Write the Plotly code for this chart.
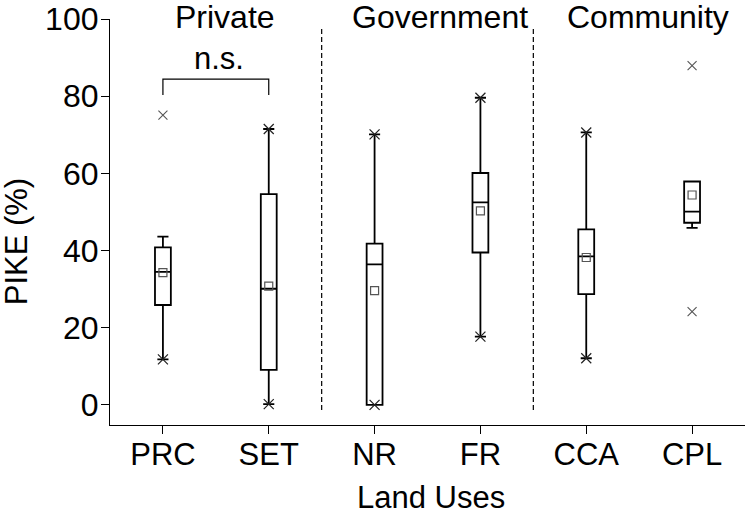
import plotly.graph_objects as go

# ---- data ----
categories = ["PRC", "SET", "NR", "FR", "CCA", "CPL"]
q1 = [25.9, 9.1, 0.0, 39.5, 28.7, 47.2]
median = [34.5, 30.1, 36.4, 52.5, 38.5, 50.1]
q3 = [40.8, 54.6, 41.8, 60.1, 45.5, 57.9]
whisker_low = [11.8, 0.2, 0.0, 17.7, 12.1, 45.9]
whisker_high = [43.6, 71.5, 70.1, 79.6, 70.6, 57.9]
means = [34.3, 30.8, 29.6, 50.3, 38.2, 54.4]

# min / max markers sitting on whisker ends
extreme_cat = ["PRC", "SET", "SET", "NR", "NR", "FR", "FR", "CCA", "CCA"]
extreme_val = [11.8, 71.5, 0.2, 70.1, 0.0, 79.6, 17.7, 70.6, 12.1]

# outlying points beyond whiskers
outlier_cat = ["PRC", "CPL", "CPL"]
outlier_val = [75.1, 87.9, 24.2]

group_labels = ["Private", "Government", "Community"]
group_centers = [0.586, 2.618, 4.584]
separators = [1.5, 3.5]
sig_pair = ["PRC", "SET"]
sig_label = "n.s."

idx = {c: i for i, c in enumerate(categories)}
xs = list(range(len(categories)))

FONT = "Liberation Sans, Arial, Helvetica, sans-serif"
FS = 31

fig = go.Figure()

fig.add_trace(go.Box(
    x=xs, q1=q1, median=median, q3=q3,
    lowerfence=whisker_low, upperfence=whisker_high,
    width=0.15, whiskerwidth=0.7,
    fillcolor="rgba(0,0,0,0)",
    line=dict(color="black", width=1.8),
    boxpoints=False, showlegend=False, hoverinfo="skip",
))

fig.add_trace(go.Scatter(
    x=xs, y=means, mode="markers", showlegend=False, hoverinfo="skip",
    marker=dict(symbol="square-open", size=8, color="#555", line=dict(width=1.2, color="#555")),
))

fig.add_trace(go.Scatter(
    x=[idx[c] for c in extreme_cat], y=extreme_val, mode="markers", showlegend=False,
    hoverinfo="skip",
    marker=dict(symbol="x-thin-open", size=10, color="#222", line=dict(width=1.2, color="#222")),
))

fig.add_trace(go.Scatter(
    x=[idx[c] for c in outlier_cat], y=outlier_val, mode="markers", showlegend=False,
    hoverinfo="skip",
    marker=dict(symbol="x-thin-open", size=9, color="#555", line=dict(width=1.1, color="#555")),
))

# dashed separators
for s in separators:
    fig.add_shape(type="line", x0=s, x1=s, y0=-1.3, y1=97.7, xref="x", yref="y",
                  line=dict(color="black", width=1.2, dash="5px,3px"))

# significance bracket
a, b = idx[sig_pair[0]], idx[sig_pair[1]]
fig.add_trace(go.Scatter(
    x=[a, a, b, b], y=[80.3, 84.4, 84.4, 80.3], mode="lines", showlegend=False,
    line=dict(color="black", width=1.2), hoverinfo="skip", cliponaxis=False,
))
fig.add_annotation(x=(a + b) / 2 + 0.03, y=89.8, xref="x", yref="y", text=sig_label,
                   showarrow=False, font=dict(size=FS, family=FONT, color="black"),
                   xanchor="center", yanchor="middle")

for lbl, cx in zip(group_labels, group_centers):
    fig.add_annotation(x=cx, y=1.0, xref="x", yref="paper", text=lbl, showarrow=False,
                       font=dict(size=32, family=FONT, color="black"),
                       xanchor="center", yanchor="middle", yshift=2)

# axis titles as annotations
fig.add_annotation(x=-94 / 635, y=0.45, xref="paper", yref="paper", text="PIKE (%)",
                   textangle=-90, showarrow=False,
                   font=dict(size=FS, family=FONT, color="black"),
                   xanchor="center", yanchor="middle")
fig.add_annotation(x=0.505, y=-90.5 / 406, xref="paper", yref="paper", text="Land Uses",
                   showarrow=False, font=dict(size=FS, family=FONT, color="black"),
                   xanchor="center", yanchor="bottom", borderpad=0)

fig.update_layout(
    width=746, height=516,
    margin=dict(l=110, r=1, t=19, b=91, pad=0, autoexpand=False),
    paper_bgcolor="white", plot_bgcolor="white",
    font=dict(family=FONT, size=FS, color="black"),
    xaxis=dict(range=[-0.5, 5.5], tickvals=xs, ticktext=categories, automargin=False,
               showline=True, linecolor="black", linewidth=1.2,
               ticks="outside", ticklen=8, tickwidth=1.2, tickcolor="black",
               ticklabelstandoff=-6,
               showgrid=False, zeroline=False, tickfont=dict(size=31)),
    yaxis=dict(range=[-5.2, 100], tickvals=[0, 20, 40, 60, 80, 100], automargin=False,
               showline=True, linecolor="black", linewidth=1.2,
               ticks="outside", ticklen=8, tickwidth=1.2, tickcolor="black",
               ticklabelstandoff=-4,
               showgrid=False, zeroline=False, tickfont=dict(size=32)),
)

fig.write_html("out.html", config={"displayModeBar": False},
               post_script="document.body.style.margin='0';")
